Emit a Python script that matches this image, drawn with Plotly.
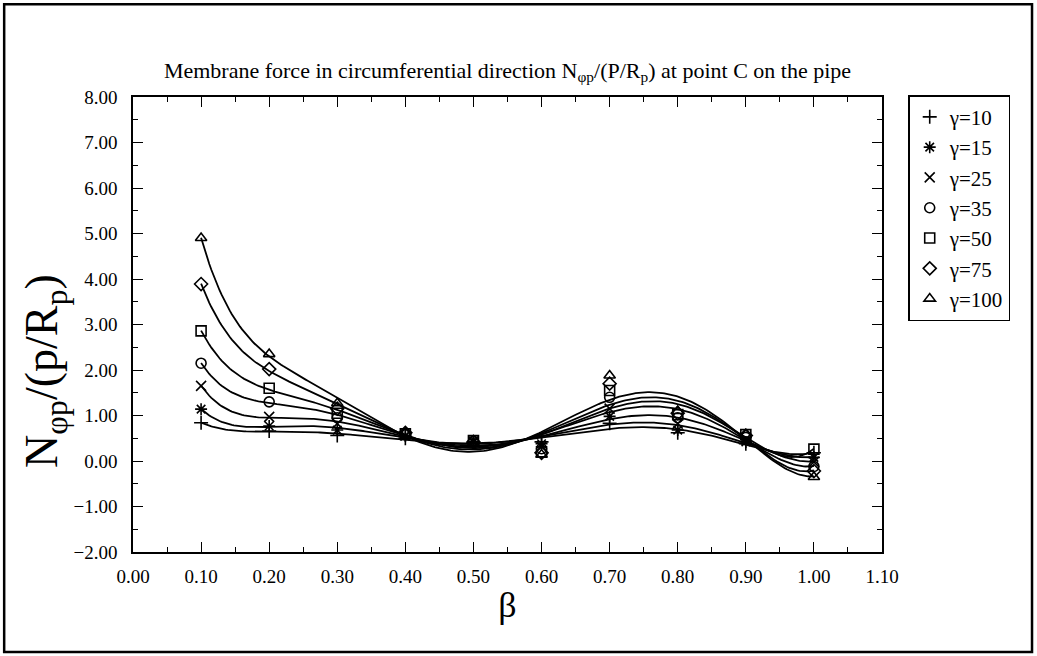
import numpy as np
import plotly.graph_objects as go

beta = [0.1, 0.2, 0.3, 0.4, 0.5, 0.6, 0.7, 0.8, 0.9, 1.0]

g10 = [0.84, 0.66, 0.56, 0.50, 0.40, 0.42, 0.83, 0.62, 0.38, 0.18]
g15 = [1.14, 0.77, 0.68, 0.55, 0.42, 0.38, 0.98, 0.68, 0.42, 0.08]
g25 = [1.65, 0.97, 0.82, 0.56, 0.43, 0.32, 1.15, 0.82, 0.48, -0.02]
g35 = [2.15, 1.30, 0.95, 0.58, 0.44, 0.27, 1.40, 0.95, 0.52, -0.12]
g50 = [2.86, 1.60, 1.05, 0.60, 0.45, 0.20, 1.55, 1.02, 0.58, 0.26]
g75 = [3.89, 2.02, 1.15, 0.62, 0.42, 0.18, 1.70, 1.05, 0.56, -0.22]
g100 = [4.90, 2.35, 1.27, 0.62, 0.40, 0.14, 1.88, 1.10, 0.58, -0.35]

series_names = ["γ=10", "γ=15", "γ=25", "γ=35", "γ=50", "γ=75", "γ=100"]
series_values = [g10, g15, g25, g35, g50, g75, g100]
symbols = ["cross-thin-open", "asterisk-open", "x-thin-open", "circle-open",
           "square-open", "diamond-open", "triangle-up-open"]

FIT_DEG = 7
FONT = "Liberation Serif"

fig = go.Figure()
xs = np.linspace(beta[0], beta[-1], 300)
for vals in series_values:
    coef = np.polyfit(beta, vals, FIT_DEG)
    fig.add_trace(go.Scatter(x=xs, y=np.polyval(coef, xs), mode="lines",
                             line=dict(color="black", width=1.8),
                             showlegend=False, hoverinfo="skip"))
for name, vals, sym in zip(series_names, series_values, symbols):
    fig.add_trace(go.Scatter(x=beta, y=vals, mode="markers", name=name,
                             marker=dict(symbol=sym, size=10, color="black",
                                         line=dict(color="black", width=1.6))))

axis_common = dict(showline=True, linecolor="black", linewidth=1.5, mirror="ticks",
                   ticks="inside", ticklen=10, tickwidth=1.2, tickcolor="black",
                   showgrid=False, zeroline=False,
                   tickfont=dict(family=FONT, size=19, color="black"))

fig.update_layout(
    width=1037, height=656,
    paper_bgcolor="white", plot_bgcolor="white",
    margin=dict(l=133, r=155, t=97, b=104),
    font=dict(family=FONT, color="black"),
    title=dict(text="Membrane force in circumferential direction N<sub>φp</sub>/(P/R<sub>p</sub>) at point C on the pipe",
               x=0.5, xref="paper", y=1 - 70 / 656, yanchor="middle",
               font=dict(family=FONT, size=22, color="black")),
    xaxis=dict(range=[0, 1.1], dtick=0.1, tickformat=".2f", ticklabelstandoff=6,
               minor=dict(ticks="inside", ticklen=5, dtick=0.05, tickcolor="black"),
               title=dict(text="β", font=dict(family=FONT, size=36, color="black"), standoff=6),
               **axis_common),
    yaxis=dict(range=[-2, 8], dtick=1, tickformat=".2f", ticklabelstandoff=10,
               minor=dict(ticks="inside", ticklen=5, dtick=0.5, tickcolor="black"),
               **axis_common),
    legend=dict(x=1.035, y=1.004, xanchor="left", yanchor="top",
                bordercolor="black", borderwidth=1.5, bgcolor="white",
                font=dict(family=FONT, size=21, color="black"),
                itemwidth=30, tracegroupgap=0),
    annotations=[dict(text="N<sub>φp</sub>/(p/R<sub>p</sub>)", textangle=-90,
                      xref="paper", yref="paper", x=(45 - 133) / 749, y=(552 - 371) / 455,
                      xanchor="center", yanchor="middle", showarrow=False,
                      font=dict(family=FONT, size=46, color="black"))],
    shapes=[dict(type="rect", xref="paper", yref="paper",
                 x0=-0.172, x1=1.2003, y0=-0.22, y1=1.204,
                 line=dict(color="black", width=2.5))],
)

fig.write_html("out.html")
